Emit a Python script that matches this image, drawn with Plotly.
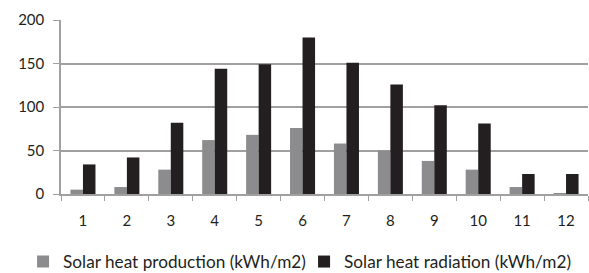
import plotly.graph_objects as go

months = [str(i) for i in range(1, 13)]
production = [5, 8, 28, 62, 68, 76, 58, 50, 38, 28, 8, 1]
radiation = [34, 42, 82, 144, 149, 180, 151, 126, 102, 81, 23, 23]
y_ticks = [0, 50, 100, 150, 200]

font = dict(family="Lato, Open Sans, sans-serif", size=15, color="#231f20")

fig = go.Figure()
fig.add_trace(go.Bar(x=months, y=production, name="Solar heat production (kWh/m2)",
                     marker=dict(color="#8c8c8e", line=dict(width=0))))
fig.add_trace(go.Bar(x=months, y=radiation, name="Solar heat radiation (kWh/m2)",
                     marker=dict(color="#231f20", line=dict(width=0))))

fig.update_layout(
    width=589, height=273,
    margin=dict(l=61, r=1, t=20, b=79, autoexpand=False),
    paper_bgcolor="white", plot_bgcolor="white",
    font=font,
    barmode="group", bargap=0.43, bargroupgap=0,
    showlegend=True,
    legend=dict(orientation="h", xref="paper", yref="paper",
                x=-0.072, xanchor="left", y=-0.39, yanchor="middle",
                font=dict(size=17.2), itemwidth=30, entrywidth=236, entrywidthmode="pixels",
                tracegroupgap=0, borderwidth=0),
)
fig.update_xaxes(type="category", tickson="boundaries", ticks="outside", ticklen=5,
                 tickcolor="#a0a0a0", showline=True, linecolor="#a0a0a0", linewidth=1.5,
                 showgrid=False, ticklabelstandoff=12, automargin=False)
fig.update_yaxes(range=[0, 200], tickvals=y_ticks, ticks="outside", ticklen=6,
                 tickcolor="#a0a0a0", showline=True, linecolor="#a0a0a0", linewidth=1.5,
                 showgrid=True, gridcolor="#a0a0a0", gridwidth=1.5, zeroline=False,
                 ticklabelstandoff=6, automargin=False)

fig.write_html("out.html", config={"displayModeBar": False})

with open("out.html", encoding="utf-8") as f:
    html = f.read()
html = html.replace("<body>", '<body style="margin:0;padding:0;">', 1)
with open("out.html", "w", encoding="utf-8") as f:
    f.write(html)
